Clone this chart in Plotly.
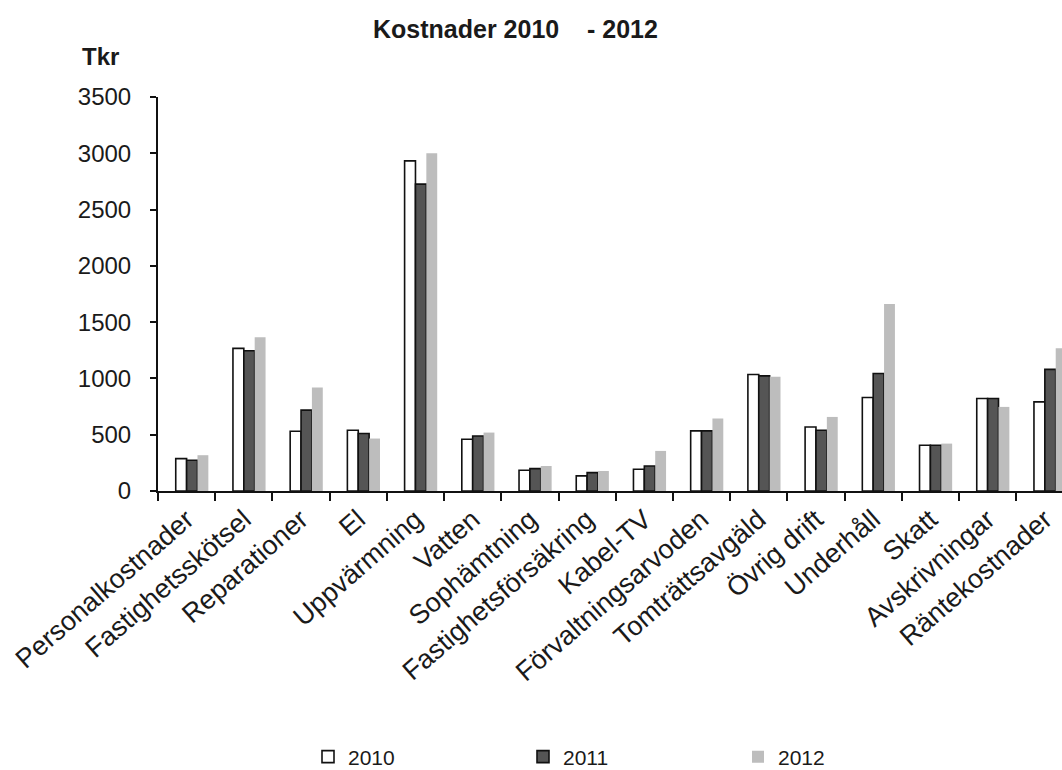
import plotly.graph_objects as go

categories = [
    "Personalkostnader", "Fastighetsskötsel", "Reparationer", "El",
    "Uppvärmning", "Vatten", "Sophämtning", "Fastighetsförsäkring",
    "Kabel-TV", "Förvaltningsarvoden", "Tomträttsavgäld", "Övrig drift",
    "Underhåll", "Skatt", "Avskrivningar", "Räntekostnader",
]
years = ["2010", "2011", "2012"]
kost_2010 = [288, 1267, 531, 540, 2933, 460, 184, 134, 193, 534, 1035, 569, 831, 407, 822, 792]
kost_2011 = [273, 1246, 718, 511, 2726, 489, 199, 163, 222, 534, 1023, 540, 1044, 407, 822, 1080]
kost_2012 = [318, 1365, 920, 466, 3000, 519, 222, 178, 356, 644, 1014, 658, 1661, 421, 747, 1267]
y_ticks = [0, 500, 1000, 1500, 2000, 2500, 3000, 3500]

series = [kost_2010, kost_2011, kost_2012]
fills = ["#ffffff", "#555555", "#bdbdbd"]
edges = ["#111111", "#111111", "rgba(0,0,0,0)"]
offsets = [-0.19, 0.0, 0.19]

fig = go.Figure()
for name, vals, fc, ec, off in zip(years, series, fills, edges, offsets):
    fig.add_trace(go.Bar(
        x=categories, y=vals, name=name,
        width=0.19, offset=off,
        marker=dict(color=fc, line=dict(color=ec, width=1.6)),
    ))

# plot area in pixels
L, R, T, B = 158, 0, 97, 279
W, H = 1062, 770
pw, ph = W - L - R, H - T - B


def px_to_paper(x, y):
    return (x - L) / pw, (H - B - y) / ph


font_family = "Liberation Sans, Arial, sans-serif"
tx, ty = px_to_paper(515, 29)
kx, ky = px_to_paper(100, 56)
lx, ly = px_to_paper(308, 757)

fig.update_layout(
    width=W, height=H,
    margin=dict(l=L, r=R, t=T, b=B, autoexpand=False),
    paper_bgcolor="white", plot_bgcolor="white",
    barmode="overlay",
    font=dict(family=font_family, size=22, color="#1a1a1a"),
    showlegend=True,
    legend=dict(
        orientation="h", x=lx, xanchor="left", y=ly, yanchor="middle",
        entrywidth=170, entrywidthmode="pixels",
        font=dict(size=21), itemwidth=30, traceorder="normal",
    ),
    annotations=[
        dict(text="<b>Kostnader 2010\u00a0\u00a0\u00a0\u00a0- 2012</b>", x=tx, y=ty,
             xref="paper", yref="paper", xanchor="center", yanchor="middle",
             showarrow=False, font=dict(size=25)),
        dict(text="<b>Tkr</b>", x=kx, y=ky, xref="paper", yref="paper",
             xanchor="center", yanchor="middle",
             showarrow=False, font=dict(size=24)),
    ],
    xaxis=dict(
        type="category", range=[-0.5, 15.3], automargin=False,
        showline=True, linecolor="#111111", linewidth=2,
        ticks="outside", tickson="boundaries", ticklen=8, tickcolor="#111111", tickwidth=2,
        tickangle=-41, tickfont=dict(size=27), showgrid=False,
    ),
    yaxis=dict(
        range=[0, 3500], tickvals=y_ticks, automargin=False,
        showline=True, linecolor="#111111", linewidth=2,
        ticks="outside", ticklen=6, tickcolor="#111111", tickwidth=2,
        ticklabelstandoff=14, tickfont=dict(size=24), showgrid=False, zeroline=False,
    ),
)

fig.write_html("out.html")
